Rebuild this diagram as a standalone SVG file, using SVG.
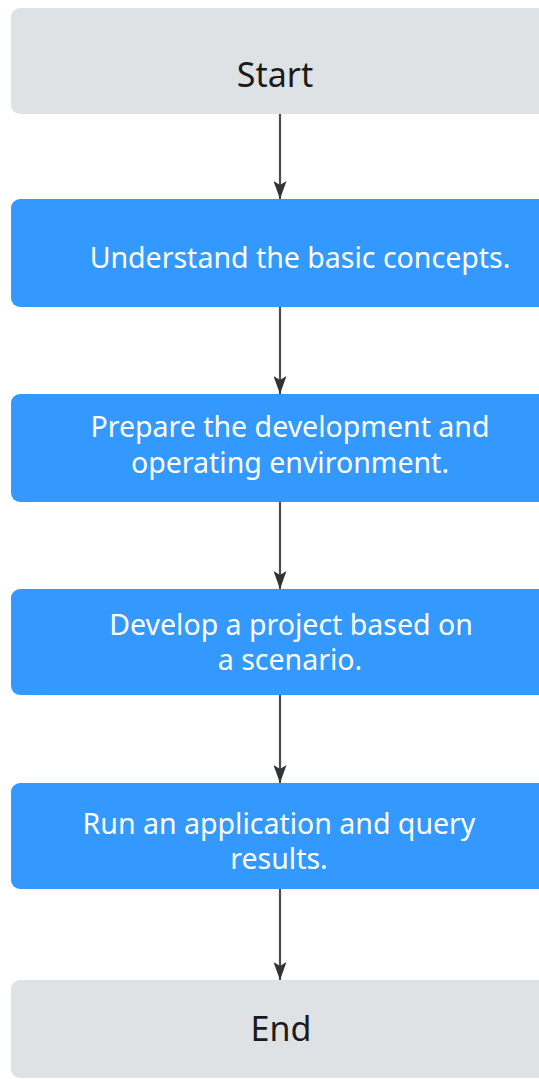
<svg xmlns="http://www.w3.org/2000/svg" width="539" height="1079" viewBox="0 0 539 1079">
<defs>
<style>
.term{fill:#dfe2e5;}
.step{fill:#3399ff;}
.tt{font-family:"Noto Sans","Open Sans",sans-serif;font-size:34px;fill:#1a1a1a;text-anchor:middle;}
.st{font-family:"Noto Sans","Open Sans",sans-serif;font-size:28.5px;fill:#ffffff;text-anchor:middle;}
.conn{stroke:#4d4d4d;stroke-width:2.2;fill:none;marker-end:url(#ah);}
</style>
<marker id="ah" markerWidth="18" markerHeight="13" refX="18" refY="6.5" orient="auto" markerUnits="userSpaceOnUse" viewBox="0 0 18 13">
<path d="M0,0 L18,6.5 L0,13 L4,6.5 Z" fill="#333333"/>
</marker>
</defs>
<rect width="539" height="1079" fill="#ffffff"/>
<g id="connectors">
<line class="conn" x1="280" y1="114" x2="280" y2="199"/>
<line class="conn" x1="280" y1="307" x2="280" y2="394"/>
<line class="conn" x1="280" y1="502" x2="280" y2="589"/>
<line class="conn" x1="280" y1="695" x2="280" y2="783"/>
<line class="conn" x1="280" y1="889" x2="280" y2="980"/>
</g>
<g id="start">
<rect class="term" x="11" y="8" width="540" height="106" rx="9"/>
<text class="tt" x="275" y="87">Start</text>
</g>
<g id="step1">
<rect class="step" x="11" y="199" width="540" height="108" rx="9"/>
<text class="st" x="300" y="268">Understand the basic concepts.</text>
</g>
<g id="step2">
<rect class="step" x="11" y="394" width="540" height="108" rx="9"/>
<text class="st" x="290" y="437">Prepare the development and</text>
<text class="st" x="290" y="473">operating environment.</text>
</g>
<g id="step3">
<rect class="step" x="11" y="589" width="540" height="106" rx="9"/>
<text class="st" x="291" y="635">Develop a project based on</text>
<text class="st" x="290" y="670">a scenario.</text>
</g>
<g id="step4">
<rect class="step" x="11" y="783" width="540" height="106" rx="9"/>
<text class="st" x="279" y="834">Run an application and query</text>
<text class="st" x="279" y="869">results.</text>
</g>
<g id="end">
<rect class="term" x="11" y="980" width="540" height="98" rx="9"/>
<text class="tt" x="281" y="1041">End</text>
</g>
</svg>
